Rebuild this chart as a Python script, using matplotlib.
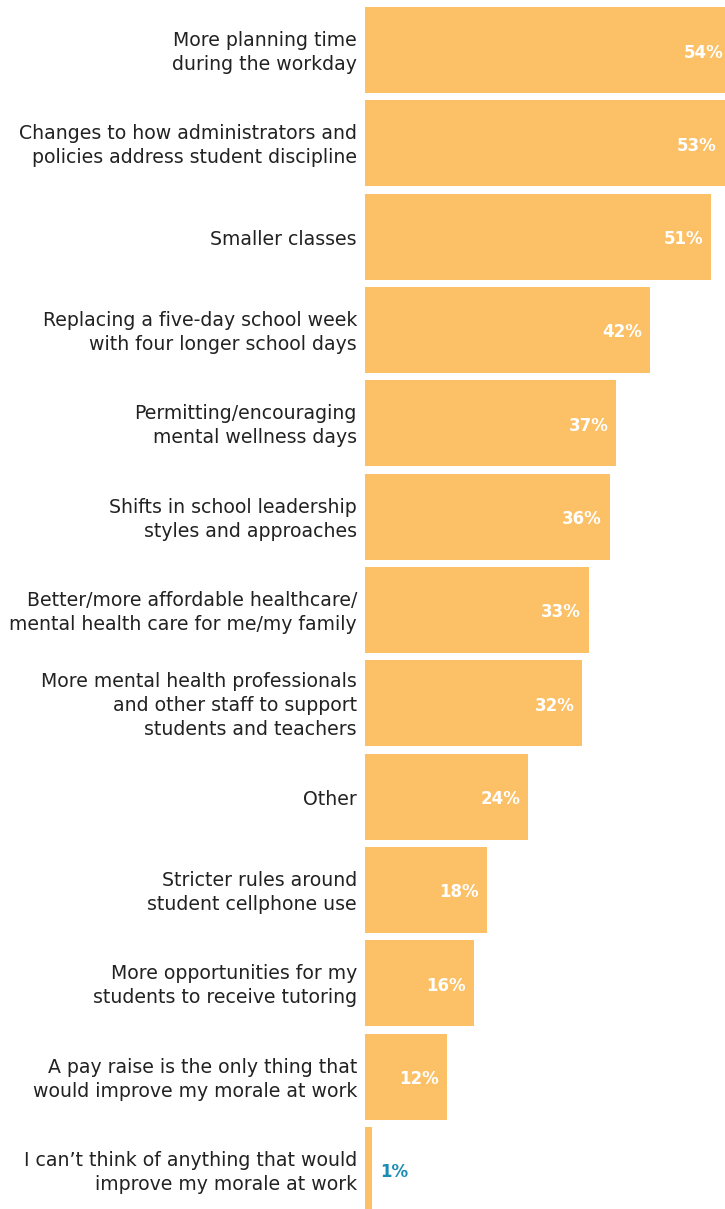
import matplotlib
matplotlib.use("Agg")
import matplotlib.pyplot as plt

# Survey answers (top to bottom) and their shares in percent
labels = [
    "More planning time\nduring the workday",
    "Changes to how administrators and\npolicies address student discipline",
    "Smaller classes",
    "Replacing a five-day school week\nwith four longer school days",
    "Permitting/encouraging\nmental wellness days",
    "Shifts in school leadership\nstyles and approaches",
    "Better/more affordable healthcare/\nmental health care for me/my family",
    "More mental health professionals\nand other staff to support\nstudents and teachers",
    "Other",
    "Stricter rules around\nstudent cellphone use",
    "More opportunities for my\nstudents to receive tutoring",
    "A pay raise is the only thing that\nwould improve my morale at work",
    "I can\u2019t think of anything that would\nimprove my morale at work",
]
values = [54, 53, 51, 42, 37, 36, 33, 32, 24, 18, 16, 12, 1]

bar_color = "#FCC066"
teal = "#1B8DB3"

W, H = 725, 1209
fig = plt.figure(figsize=(W / 100, H / 100), dpi=100)
ax = fig.add_axes([365 / W, 0, 1 - 365 / W, 1])

pos = list(range(len(values)))
ax.barh(pos, values, height=0.921, color=bar_color, edgecolor="none")
ax.set_xlim(0, 53.0)
ax.set_ylim((H - 50) / 93.33, -50 / 93.33)
ax.axis("off")

px = 53.0 / (W - 365)  # data units per pixel
dy = 2.5 / 93.33        # nudge text slightly below bar centre
for i, (lab, v) in enumerate(zip(labels, values)):
    ax.text(-8 * px, i + dy, lab, ha="right", va="center", fontsize=13.6,
            color="#222222", linespacing=1.34, clip_on=False)
    if v >= 5:
        ax.text(v - 8 * px, i + dy, f"{v}%", ha="right", va="center",
                fontsize=12, fontweight="bold", color="white")
    else:
        ax.text(v + 8 * px, i + dy, f"{v}%", ha="left", va="center",
                fontsize=12, fontweight="bold", color=teal)

fig.savefig("out.png", dpi=100)
